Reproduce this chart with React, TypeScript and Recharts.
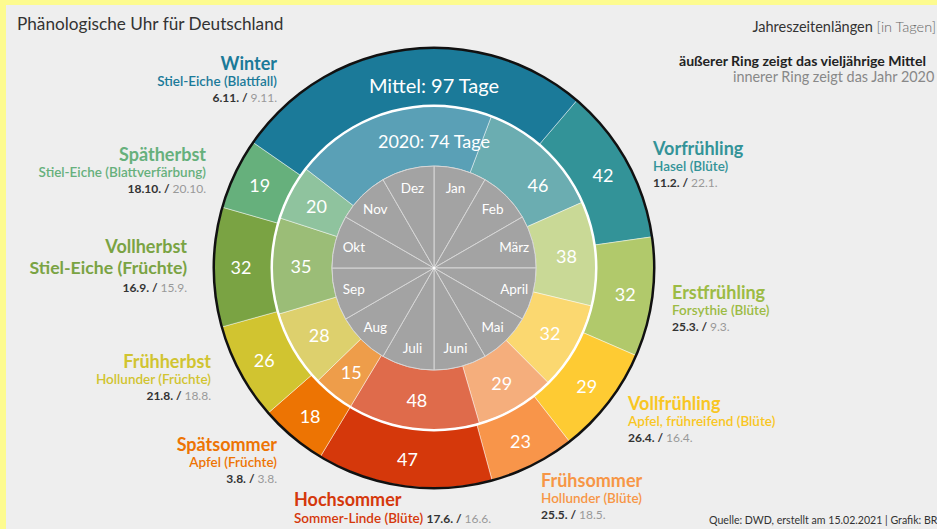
import React from "react";
import { PieChart, Pie, Cell } from "recharts";

// ─── Data ─────────────────────────────────────────────────────────────────────

const SEASONS = [
  "Vorfrühling", "Erstfrühling", "Vollfrühling", "Frühsommer", "Hochsommer",
  "Spätsommer", "Frühherbst", "Vollherbst", "Spätherbst", "Winter",
];
const PLANTS = [
  "Hasel (Blüte)", "Forsythie (Blüte)", "Apfel, frühreifend (Blüte)", "Hollunder (Blüte)",
  "Sommer-Linde (Blüte)", "Apfel (Früchte)", "Hollunder (Früchte)", "Stiel-Eiche (Früchte)",
  "Stiel-Eiche (Blattverfärbung)", "Stiel-Eiche (Blattfall)",
];
// season lengths in days: long-term mean (outer ring) and 2020 (inner ring)
const MEAN_DAYS = [42, 32, 29, 23, 47, 18, 26, 32, 19, 97];
const DAYS_2020 = [46, 38, 32, 29, 48, 15, 28, 35, 20, 74];
// onset dates
const MEAN_START = ["11.2.", "25.3.", "26.4.", "25.5.", "17.6.", "3.8.", "21.8.", "16.9.", "18.10.", "6.11."];
const START_2020 = ["22.1.", "9.3.", "16.4.", "18.5.", "16.6.", "3.8.", "18.8.", "15.9.", "20.10.", "9.11."];
const MONTHS = ["Jan", "Feb", "März", "April", "Mai", "Juni", "Juli", "Aug", "Sep", "Okt", "Nov", "Dez"];

// ─── Styles ───────────────────────────────────────────────────────────────────

const OUTER_COLORS = ["#339398", "#b1c96b", "#fecb33", "#f8954a", "#d5380b", "#ed7403", "#d1c430", "#7aa343", "#66b07c", "#1b7a99"];
const INNER_COLORS = ["#6badb1", "#c9d996", "#fbd870", "#f5ae7c", "#df6b4b", "#ee9d4a", "#ddd06d", "#9bbd77", "#8fc39e", "#5aa0b6"];
const TEXT_COLORS  = ["#339398", "#9cbb44", "#f9c623", "#f79646", "#d5380b", "#ed7403", "#d1c430", "#7aa343", "#66b07c", "#1b7a99"];

const FONT = "Lato, 'Open Sans', sans-serif";
const CX = 434;
const CY = 268;
const RAD = Math.PI / 180;

// label layout around the clock: [x, titleBaseline, anchor]
const LABEL_POS: [number, number, "start" | "end"][] = [
  [653, 155, "start"],
  [672, 299, "start"],
  [628, 410, "start"],
  [541, 487, "start"],
  [294, 506, "start"],
  [277, 451, "end"],
  [211, 368, "end"],
  [187, 253, "end"],
  [206, 161, "end"],
  [277, 70, "end"],
];
// small angular nudges (deg, clockwise) for ring numbers that would crowd other text
const INNER_NUDGE: Record<string, number> = { "Vorfrühling": 8 };

const CUM_MONTH = [0, 31, 59, 90, 120, 151, 181, 212, 243, 273, 304, 334];
const dayOfYear = (d: string) => {
  const [day, month] = d.split(".").map(Number);
  return CUM_MONTH[month - 1] + day - 1;
};
const startAngleOf = (d: string) => 90 - (dayOfYear(d) / 365) * 360;

const outerData = SEASONS.map((name, i) => ({ name, value: MEAN_DAYS[i] }));
const innerData = SEASONS.map((name, i) => ({ name, value: DAYS_2020[i] }));
const monthData = MONTHS.map((name) => ({ name, value: 1 }));

const outerStart = startAngleOf(MEAN_START[0]);
const innerStart = startAngleOf(START_2020[0]);

// ─── Labels ───────────────────────────────────────────────────────────────────

const ringLabel = (r: number, winterR: number, winterText: string, size: number, winterSize: number,
  nudge: Record<string, number> = {}) =>
  (props: any) => {
    const { cx, cy, midAngle, name, value } = props;
    const isWinter = name === "Winter";
    const a = midAngle - (nudge[name] || 0);
    const x = isWinter ? cx : cx + r * Math.cos(-a * RAD);
    const y = isWinter ? cy - winterR : cy + r * Math.sin(-a * RAD);
    return (
      <text x={x} y={y} fill="#fff" textAnchor="middle" dominantBaseline="central"
        fontSize={isWinter ? winterSize : size} fontFamily={FONT}>
        {isWinter ? `${winterText}: ${value} Tage` : value}
      </text>
    );
  };

const monthLabel = (props: any) => {
  const { cx, cy, midAngle, name } = props;
  const r = 83;
  return (
    <text x={cx + r * Math.cos(-midAngle * RAD)} y={cy + r * Math.sin(-midAngle * RAD)}
      fill="#fff" textAnchor="middle" dominantBaseline="central" fontSize={13.5} fontFamily={FONT}>
      {name}
    </text>
  );
};

const SeasonLabel = ({ i }: { i: number }) => {
  const [x, y, anchor] = LABEL_POS[i];
  const color = TEXT_COLORS[i];
  const dates = [
    <tspan key="a" fill="#333" fontWeight={700}>{MEAN_START[i]} / </tspan>,
    <tspan key="b" fill="#999">{START_2020[i]}</tspan>,
  ];
  if (SEASONS[i] === "Hochsommer") {
    return (
      <g fontFamily={FONT} textAnchor={anchor}>
        <text x={x} y={y} fill={color} fontSize={18} fontWeight={700}>{SEASONS[i]}</text>
        <text x={x} y={y + 17} fontSize={12}>
          <tspan fill={color} fontWeight={600} fontSize={13.5}>{PLANTS[i]} </tspan>
          {dates}
        </text>
      </g>
    );
  }
  const big = SEASONS[i] === "Vollherbst";
  return (
    <g fontFamily={FONT} textAnchor={anchor}>
      <text x={x} y={y} fill={color} fontSize={18} fontWeight={700}>{SEASONS[i]}</text>
      <text x={x} y={y + (big ? 21 : 16)} fill={color} fontSize={big ? 17.7 : 13.5} fontWeight={big ? 700 : 600}>
        {PLANTS[i]}
      </text>
      <text x={x} y={y + (big ? 39 : 32)} fontSize={12}>{dates}</text>
    </g>
  );
};

// ─── Component ────────────────────────────────────────────────────────────────

const NO_MARGIN = { top: 0, right: 0, bottom: 0, left: 0 };

export default function App() {
  return (
    <div style={s.page}>
      <div style={s.inner} />
      <PieChart width={937} height={529} margin={NO_MARGIN} style={s.abs}>
        <Pie data={outerData} dataKey="value" cx={CX} cy={CY} innerRadius={162} outerRadius={220}
          startAngle={outerStart} endAngle={outerStart - 360}
          stroke="rgba(255,255,255,0.45)" strokeWidth={1}
          label={ringLabel(193, 183, "Mittel", 18, 20)} labelLine={false} isAnimationActive={false}>
          {outerData.map((d, i) => <Cell key={d.name} fill={OUTER_COLORS[i]} />)}
        </Pie>
        <Pie data={[{ value: 1 }]} dataKey="value" cx={CX} cy={CY} innerRadius={219} outerRadius={221.5}
          fill="#111" stroke="none" isAnimationActive={false} />
        <Pie data={innerData} dataKey="value" cx={CX} cy={CY} innerRadius={102} outerRadius={162}
          startAngle={innerStart} endAngle={innerStart - 360}
          stroke="rgba(255,255,255,0.45)" strokeWidth={1}
          label={ringLabel(133, 127, "2020", 18, 18, INNER_NUDGE)} labelLine={false} isAnimationActive={false}>
          {innerData.map((d, i) => <Cell key={d.name} fill={INNER_COLORS[i]} />)}
        </Pie>
        <Pie data={[{ value: 1 }]} dataKey="value" cx={CX} cy={CY} innerRadius={161} outerRadius={163.5}
          fill="#fff" stroke="none" isAnimationActive={false} />
        <Pie data={monthData} dataKey="value" cx={CX} cy={CY} innerRadius={0} outerRadius={102}
          startAngle={90} endAngle={-270} fill="#a3a3a3" stroke="#d6d6d6" strokeWidth={1}
          label={monthLabel} labelLine={false} isAnimationActive={false} />
      </PieChart>

      <svg width={937} height={529} style={{ ...s.abs, pointerEvents: "none" }}>
        <circle cx={CX} cy={CY} r={1.5} fill="#fff" />
        <text x={17} y={30} fontFamily={FONT} fontSize={17.2} fill="#333">Phänologische Uhr für Deutschland</text>
        <text x={936} y={32} fontFamily={FONT} fontSize={14.5} textAnchor="end" fill="#333">
          Jahreszeitenlängen <tspan fill="#666" fontWeight={300}>[in Tagen]</tspan>
        </text>
        <text x={679} y={66} fontFamily={FONT} fontSize={14.1} fontWeight={700} fill="#222">
          äußerer Ring zeigt das vieljährige Mittel
        </text>
        <text x={733} y={82} fontFamily={FONT} fontSize={14.4} fill="#888">
          innerer Ring zeigt das Jahr 2020
        </text>
        {SEASONS.map((name, i) => <SeasonLabel key={name} i={i} />)}
        <text x={709} y={524} fontFamily={FONT} fontSize={10.6} fill="#333">
          Quelle: DWD, erstellt am 15.02.2021 | Grafik: BR
        </text>
      </svg>
    </div>
  );
}

const s: Record<string, React.CSSProperties> = {
  page:  { position: "absolute", left: 0, top: 0, width: 937, height: 529, background: "#fdfb8f", overflow: "hidden" },
  inner: { position: "absolute", left: 6, top: 5, right: 0, bottom: 0, background: "#eeeeee" },
  abs:   { position: "absolute", left: 0, top: 0 },
};
